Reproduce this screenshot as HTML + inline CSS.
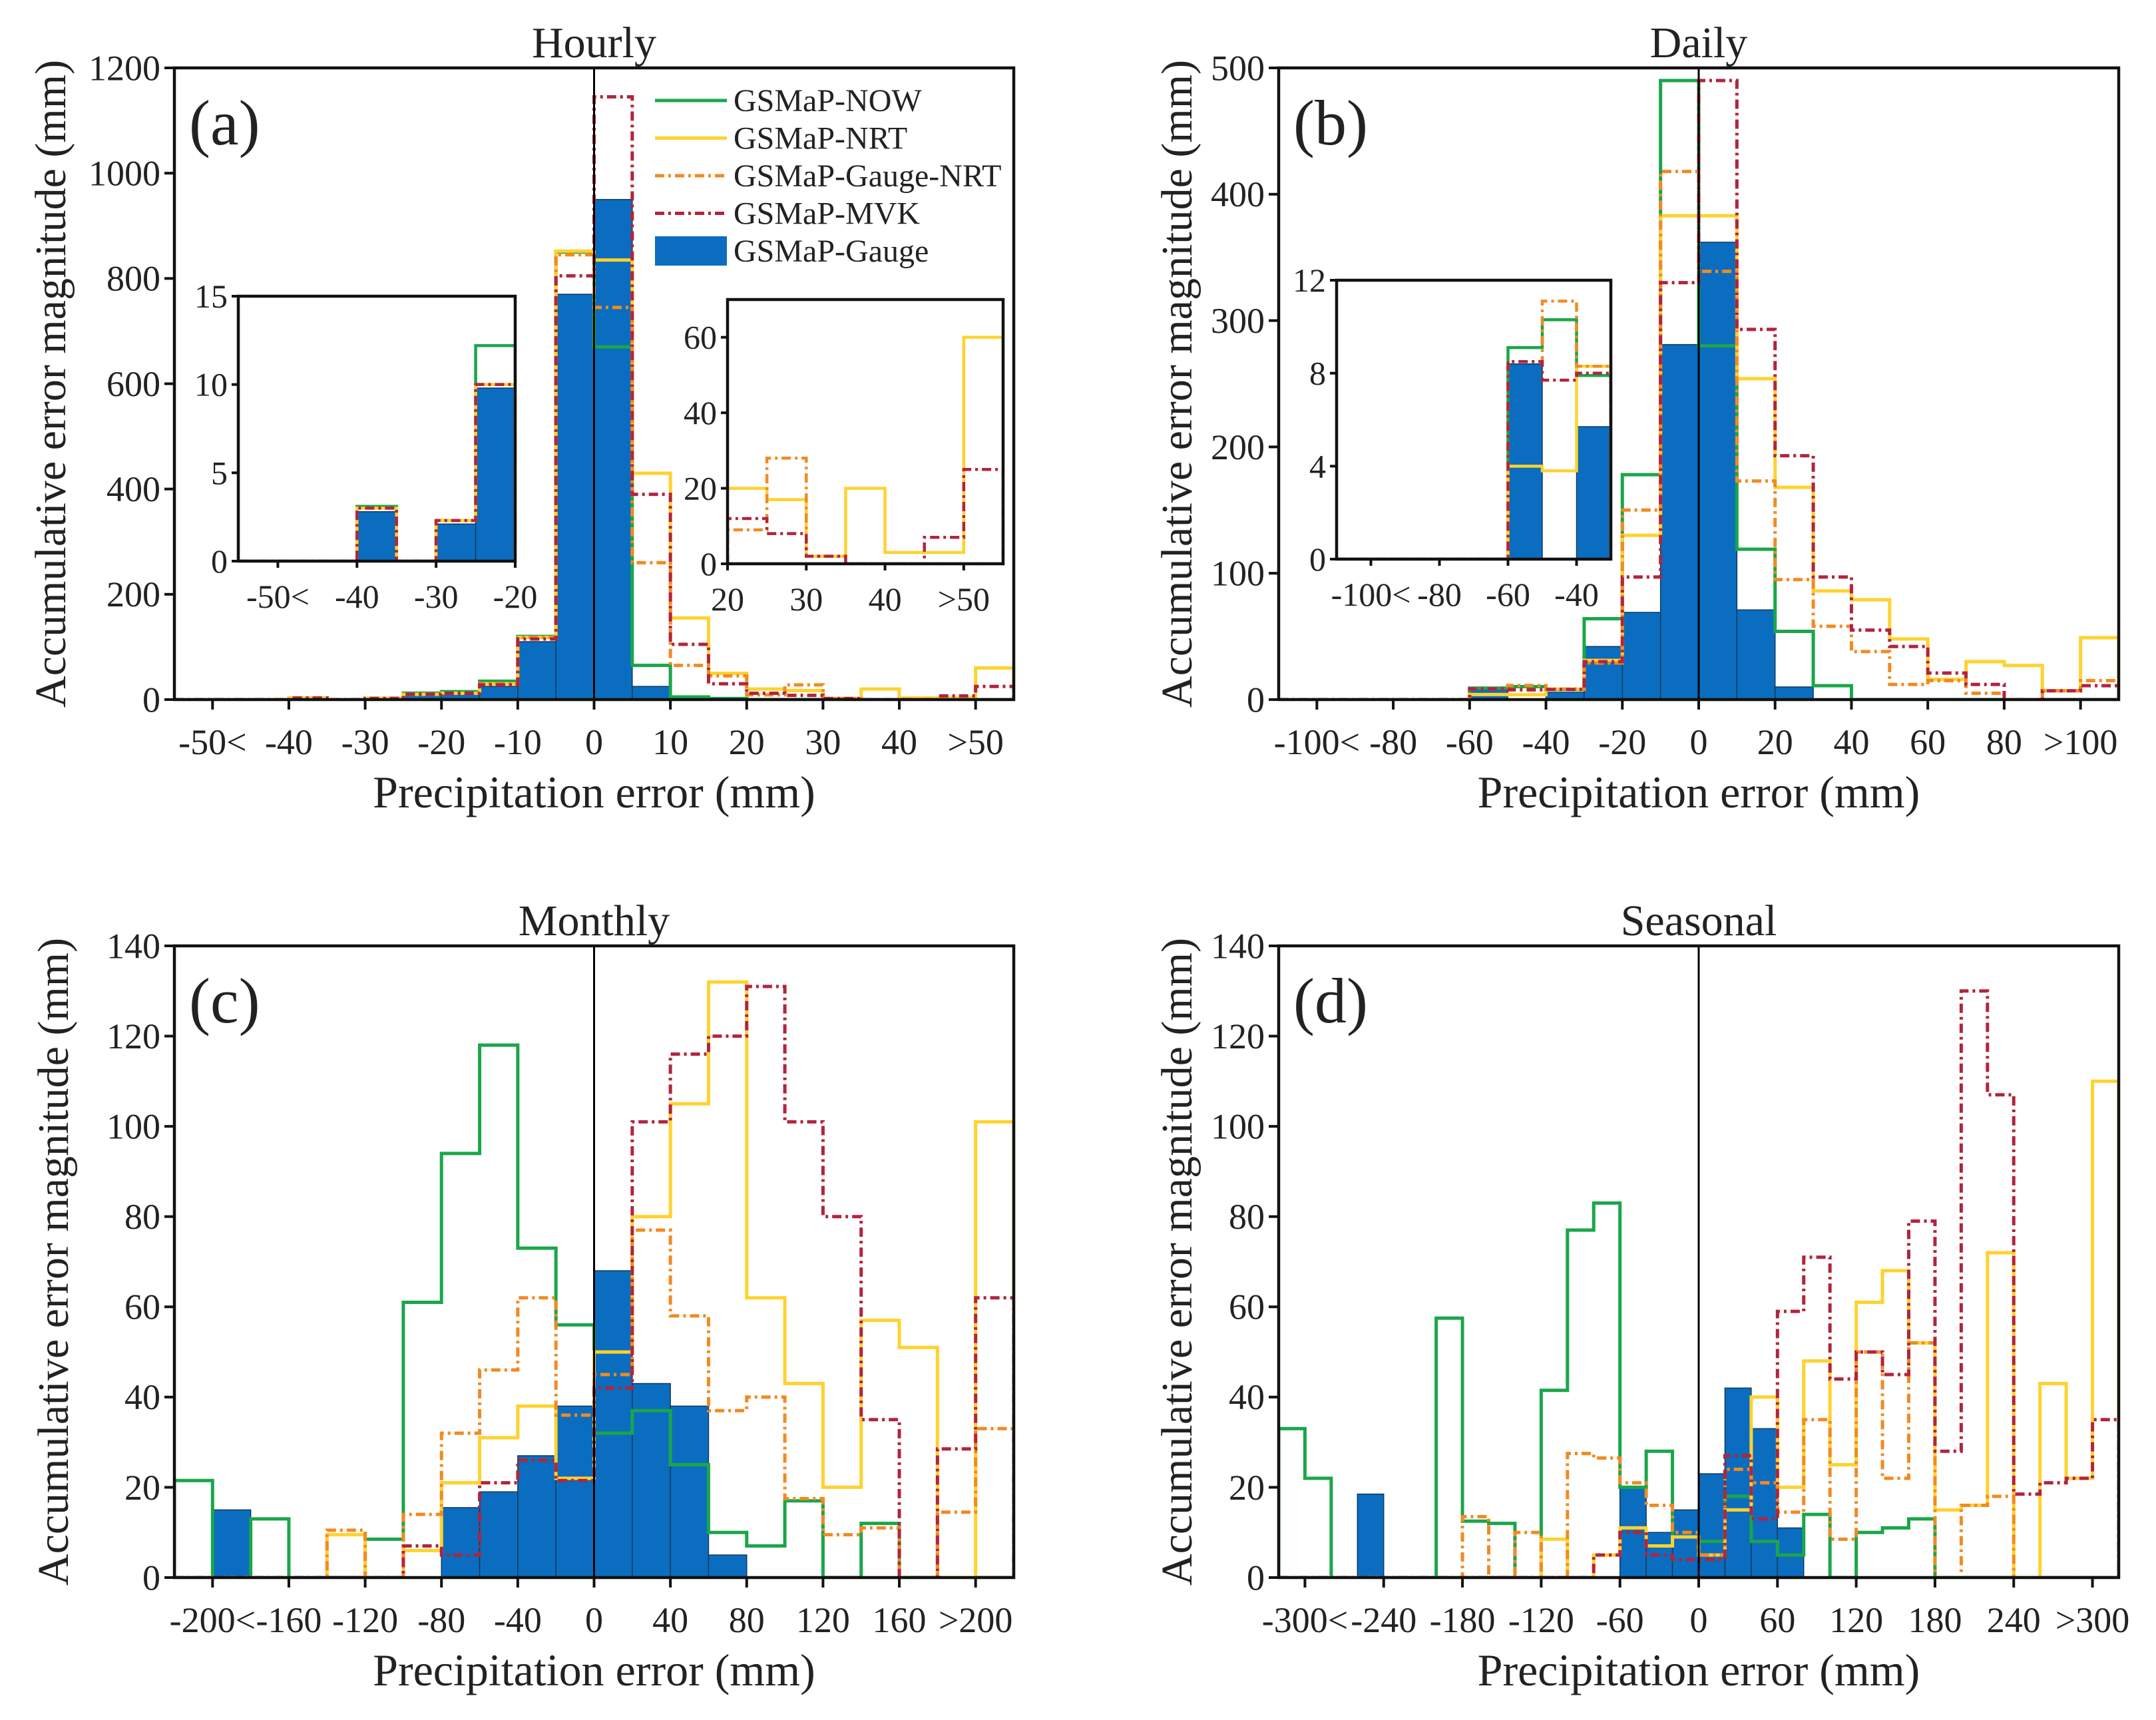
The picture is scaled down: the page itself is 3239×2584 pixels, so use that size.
<!DOCTYPE html>
<html><head><meta charset="utf-8"><style>
html,body{margin:0;padding:0;background:#fff}
svg{display:block}
text{font-family:"Liberation Serif",serif;fill:#222}
</style></head><body>
<svg id="fig" width="3239" height="2584" viewBox="0 0 3239 2584" xmlns="http://www.w3.org/2000/svg"></svg>
<script>
// ---------- Panel (a) Hourly: 22 bins from -55 to 55 step 5 ----------
const aNOW   = [0,0,0,3.1,0,2.3,12.2,15,35,120,850,670,65,5,2,0,0,0,0,0,0,0];
const aNRT   = [0,0,0,3,0,2.3,10,12,30,118,852,835,430,155,50,20,17,2,20,3,3,60];
const aGNRT  = [0,0,0,3,0,2.3,10,12,30,118,845,745,260,65,45,9,28,2,0,0,0,0];
const aMVK   = [0,0,0,3,0,2.3,10,12,28,115,805,1145,390,105,30,12,8,2,0,0,7,25];
const aGauge = [0,0,0,2.8,0,2.1,9.8,10,25,110,770,950,25,2,0,0,0,0,0,0,0,0];
const aXTicks = [-50,-40,-30,-20,-10,0,10,20,30,40,50];
const aXLabels = ["-50<","-40","-30","-20","-10","0","10","20","30","40",">50"];
const aYTicks = [0,200,400,600,800,1000,1200];
// ---------- Panel (b) Daily: 22 bins from -110 to 110 step 10 ----------
const bNOW   = [0,0,0,0,0,9.1,10.3,7.9,64,178,490,280,119,54,11,0,0,0,0,0,0,0];
const bNRT   = [0,0,0,0,0,4,3.8,8.3,31,130,383,383,254,168,86,79,48,16,30,27,7,49];
const bGNRT  = [0,0,0,0,0,8.5,11.1,8.3,29,150,418,339,173,95,58,38,12,15,5,0,7,15];
const bMVK   = [0,0,0,0,0,8.5,7.7,8,30,97,330,490,293,193,97,55,42,21,12,0,7,11];
const bGauge = [0,0,0,0,0,8.4,0,5.7,42,69,281,362,71,10,0,0,0,0,0,0,0,0];
const bXTicks = [-100,-80,-60,-40,-20,0,20,40,60,80,100];
const bXLabels = ["-100<","-80","-60","-40","-20","0","20","40","60","80",">100"];
const bYTicks = [0,100,200,300,400,500];
// ---------- Panel (c) Monthly: 22 bins from -220 to 220 step 20 ----------
const cNOW   = [21.5,0,13,0,0,8.5,61,94,118,73,56,32,37,25,10,7,17,0,12,0,0,0];
const cNRT   = [0,0,0,0,9.5,0,6,21,31,38,22,50,80,105,132,62,43,20,57,51,0,101];
const cGNRT  = [0,0,0,0,10.5,0,14,32,46,62,36,45,77,58,37,40,17.5,9.5,11,0,14.5,33];
const cMVK   = [0,0,0,0,0,0,7,5,21,26,21.5,42,101,116,120,131,101,80,35,0,28.5,62];
const cGauge = [0,15,0,0,0,0,0,15.5,19,27,38,68,43,38,5,0,0,0,0,0,0,0];
const cXTicks = [-200,-160,-120,-80,-40,0,40,80,120,160,200];
const cXLabels = ["-200<","-160","-120","-80","-40","0","40","80","120","160",">200"];
const cYTicks = [0,20,40,60,80,100,120,140];
// ---------- Panel (d) Seasonal: 32 bins from -320 to 320 step 20 ----------
const dNOW   = [33,22,0,0,0,0,57.5,12.5,12,0,41.5,77,83,20,28,9,8,18,8,5,14,0,10,11,13,0,0,0,0,0,0,0];
const dNRT   = [0,0,0,0,0,0,0,0,0,0,8.5,0,5,11,7,9,5,15,40,20,48,25,61,68,52,15,16,72,0,43,22,110];
const dGNRT  = [0,0,0,0,0,0,0,13.5,0,10,0,27.5,26.5,21,16,10,5,24,21,14.5,35,8.5,50,22,52,0,16,18,0,0,0,0];
const dMVK   = [0,0,0,0,0,0,0,0,0,0,0,0,5,10,5,4,4,27,13,59,71,44,50,45,79,28,130,107,18.5,21,22,35];
const dGauge = [0,0,0,18.5,0,0,0,0,0,0,0,0,0,20,10,15,23,42,33,11,0,0,0,0,0,0,0,0,0,0,0,0];
const dXTicks = [-300,-240,-180,-120,-60,0,60,120,180,240,300];
const dXLabels = ["-300<","-240","-180","-120","-60","0","60","120","180","240",">300"];
const dYTicks = [0,20,40,60,80,100,120,140];
// ---------- Insets ----------
const aLXTicks = [-50,-40,-30,-20];
const aLXLabels = ["-50<","-40","-30","-20"];
const aLYTicks = [0,5,10,15];
const aRXTicks = [20,30,40,50];
const aRXLabels = ["20","30","40",">50"];
const aRYTicks = [0,20,40,60];
const bIXTicks = [-100,-80,-60,-40];
const bIXLabels = ["-100<","-80","-60","-40"];
const bIYTicks = [0,4,8,12];
const legendNames = ["GSMaP-NOW","GSMaP-NRT","GSMaP-Gauge-NRT","GSMaP-MVK","GSMaP-Gauge"];

const NS="http://www.w3.org/2000/svg";
const svg=document.getElementById('fig');
const COL={now:"#1aa64a",nrt:"#ffd22e",gnrt:"#f28a22",mvk:"#b3243c",gauge:"#0b6dbf"};
function el(tag,attrs,parent){const e=document.createElementNS(NS,tag);for(const k in attrs)e.setAttribute(k,attrs[k]);(parent||svg).appendChild(e);return e;}
function txt(s,x,y,size,anchor,parent,rot){const t=el('text',{x:x,y:y,'font-size':size,'text-anchor':anchor||'middle'},parent);if(rot)t.setAttribute('transform','rotate(-90 '+x+' '+y+')');t.textContent=s;return t;}

function drawAxes(g,P,opts){
  const sx=v=>P.L+(v-P.x0)/(P.x1-P.x0)*(P.R-P.L);
  const sy=v=>P.B-(v-P.y0)/(P.y1-P.y0)*(P.B-P.T);
  const step=P.step;
  const nb=Math.round((P.x1-P.x0)/step);
  const clipId='clip'+P.id;
  const cp=el('clipPath',{id:clipId},g);el('rect',{x:P.L,y:P.T-2,width:P.R-P.L,height:P.B-P.T+2},cp);
  const plot=el('g',{'clip-path':'url(#'+clipId+')'},g);
  
  
  const bars=el('g',{},plot);
  
  
  for(let i=0;i<nb;i++){
    const v=P.data.gauge[i+P.off]; if(!v)continue;
    const x0=sx(P.x0+i*step),x1=sx(P.x0+(i+1)*step);
    const r=el('rect',{x:x0,y:sy(v),width:x1-x0,height:sy(0)-sy(v),fill:COL.gauge,stroke:'#123a5e','stroke-width':1.5},bars);
    
    
  }
  const series=[['now',COL.now,null,'gsmap-now-line'],['nrt',COL.nrt,null,'gsmap-nrt-line'],['gnrt',COL.gnrt,'14 6 4 6','gsmap-gauge-nrt-line'],['mvk',COL.mvk,'14 6 4 6','gsmap-mvk-line']];
  const lw=opts.lw||5;
  for(const s of series){
    const arr=P.data[s[0]];
    let d='M'+sx(P.x0)+','+sy(0);
    for(let i=0;i<nb;i++){const v=Math.min(arr[i+P.off],P.y1*1.02);d+=' L'+sx(P.x0+i*step)+','+sy(v)+' L'+sx(P.x0+(i+1)*step)+','+sy(v);}
    d+=' L'+sx(P.x1)+','+sy(0);
    const p=el('path',{d:d,fill:'none',stroke:s[1],'stroke-width':lw},plot);
    if(s[2])p.setAttribute('stroke-dasharray',s[2]);
    
    
  }
  if(opts.zero){const z=el('line',{x1:sx(0),x2:sx(0),y1:P.T,y2:P.B,stroke:'#000','stroke-width':3},g);
    }
  const fr=el('rect',{x:P.L,y:P.T,width:P.R-P.L,height:P.B-P.T,fill:'none',stroke:'#111','stroke-width':opts.frame||4.5},g);
  
  const tl=opts.tick||15, fs=opts.fs||54;
  const xt=el('g',{},g);
  P.xt.forEach((v,i)=>{const x=sx(v);el('line',{x1:x,x2:x,y1:P.B,y2:P.B+tl,stroke:'#111','stroke-width':4},xt);
    const t=txt(P.xl[i],x,P.B+opts.xlOff,fs,'middle',xt);});
  const yt=el('g',{},g);
  P.yt.forEach(v=>{const y=sy(v);el('line',{x1:P.L-tl,x2:P.L,y1:y,y2:y,stroke:'#111','stroke-width':4},yt);
    const t=txt(String(v),P.L-tl-6,y+fs*0.34,fs,'end',yt);});
}

function panel(id,L,R,T,B,x0,x1,step,y0,y1,data,xt,xl,yt,title,letter,ylabX){
  const g=el('g',{});
  drawAxes(g,{id:id,L,R,T,B,x0,x1,step,y0,y1,data,off:0,xt,xl,yt},{zero:true,xlOff:82,fs:54});
  const cx=L+(R-L)/2;
  const t=txt(title,L+(0-x0)/(x1-x0)*(R-L),T-16,66,'middle',g);
  
  const lt=txt(letter,L+22,T+115,96,'start',g);
  const xlab=txt('Precipitation error (mm)',cx,B+162,68,'middle',g);
  const ylab=txt('Accumulative error magnitude (mm)',ylabX,(T+B)/2,66,'middle',g,true);
  return g;
}
function inset(name,L,R,T,B,x0,x1,step,y1,data,off,xt,xl,yt){
  const g=el('g',{});
  el('rect',{x:L,y:T,width:R-L,height:B-T,fill:'#fff'},g);
  drawAxes(g,{id:name,L,R,T,B,x0,x1,step,y0:0,y1,data,off,xt,xl,yt},{zero:false,xlOff:70,fs:50,tick:10,lw:4.5});
}

const A={now:aNOW,nrt:aNRT,gnrt:aGNRT,mvk:aMVK,gauge:aGauge};
const Bd={now:bNOW,nrt:bNRT,gnrt:bGNRT,mvk:bMVK,gauge:bGauge};
const C={now:cNOW,nrt:cNRT,gnrt:cGNRT,mvk:cMVK,gauge:cGauge};
const D={now:dNOW,nrt:dNRT,gnrt:dGNRT,mvk:dMVK,gauge:dGauge};

panel('a',262,1523,102,1051,-55,55,5,0,1200,A,aXTicks,aXLabels,aYTicks,'Hourly','(a)',98);
panel('b',1921,3183,102,1051,-110,110,10,0,500,Bd,bXTicks,bXLabels,bYTicks,'Daily','(b)',1790);
panel('c',262,1523,1421,2370,-220,220,20,0,140,C,cXTicks,cXLabels,cYTicks,'Monthly','(c)',102);
panel('d',1921,3183,1421,2370,-320,320,20,0,140,D,dXTicks,dXLabels,dYTicks,'Seasonal','(d)',1790);

inset('inset-a-left',358,774,445,843,-55,-20,5,15,A,0,aLXTicks,aLXLabels,aLYTicks);
inset('inset-a-right',1093,1507,450,847,20,55,5,70,A,15,aRXTicks,aRXLabels,aRYTicks);
inset('inset-b',2008,2420,421,840,-110,-30,10,12,Bd,0,bIXTicks,bIXLabels,bIYTicks);

const lg=el('g',{});
el('rect',{x:975,y:120,width:540,height:290,fill:'#fff'},lg);
const lcols=[COL.now,COL.nrt,COL.gnrt,COL.mvk,COL.gauge];
const ldash=[null,null,'14 6 4 6','14 6 4 6',null];
legendNames.forEach((n,i)=>{
  const y=151+i*56.5;
  const e=el('g',{},lg);
  
  
  if(i<4){const l=el('line',{x1:984,x2:1092,y1:y,y2:y,stroke:lcols[i],'stroke-width':5},e);if(ldash[i])l.setAttribute('stroke-dasharray',ldash[i]);}
  else{el('rect',{x:984,y:y-22,width:108,height:44,fill:COL.gauge},e);}
  txt(n,1102,y+16,48,'start',e);
});
</script>
</body></html>
